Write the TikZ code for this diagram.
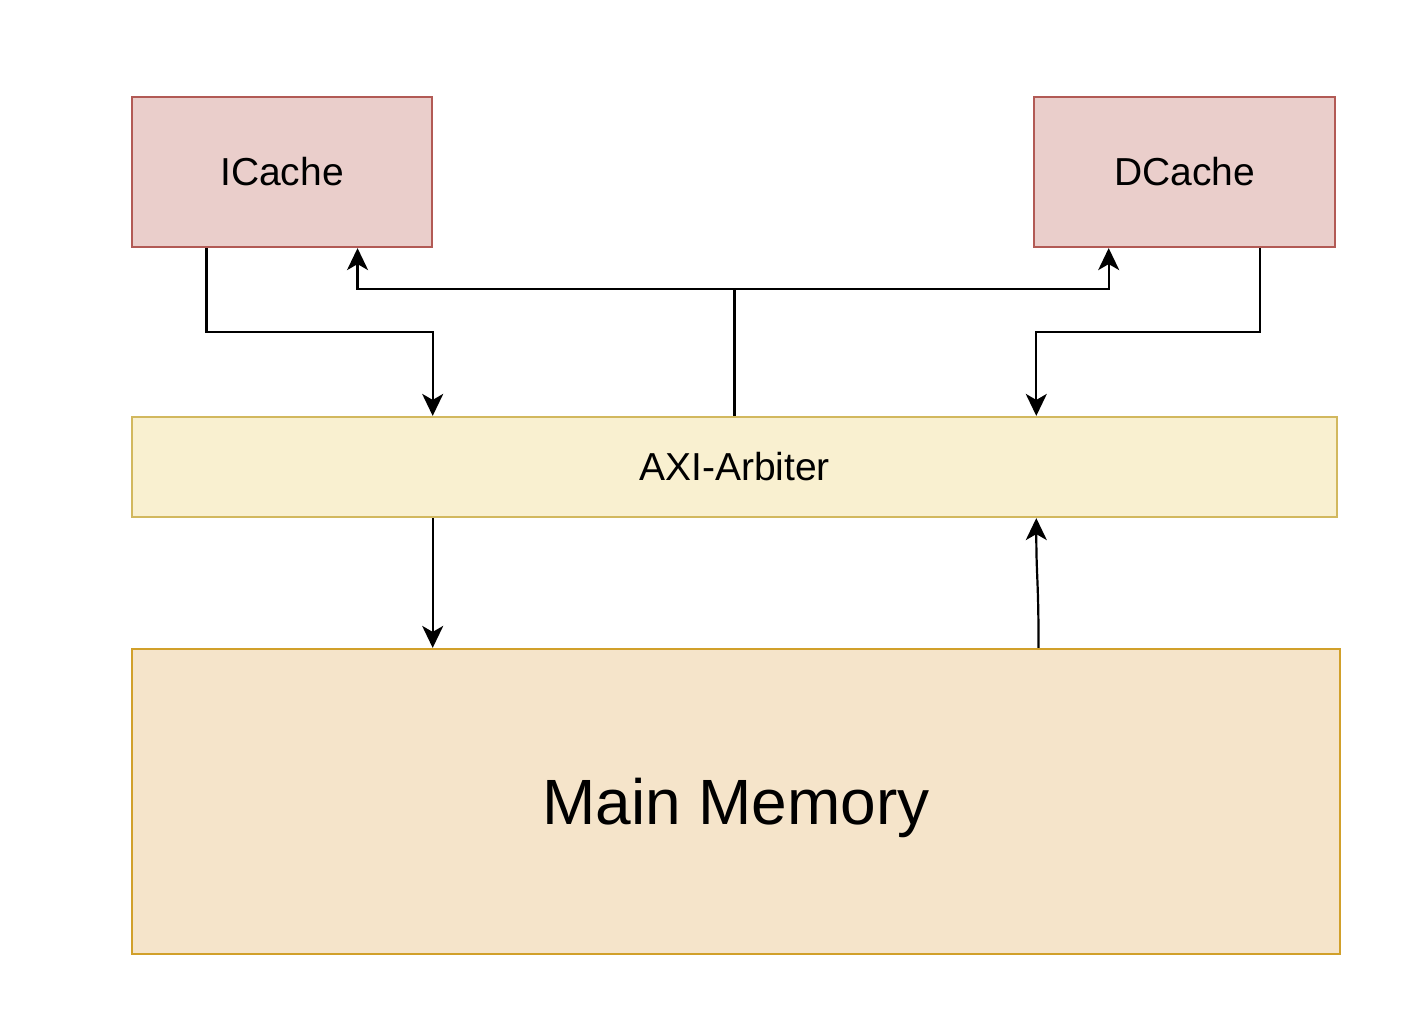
\documentclass[tikz,border=0pt]{standalone}
\usepackage{fontspec}
\setmainfont{Liberation Sans}
\usetikzlibrary{arrows.meta,calc}
\definecolor{cachefill}{HTML}{EACECB}
\definecolor{cachedraw}{HTML}{B25A55}
\definecolor{arbfill}{HTML}{F9F0D0}
\definecolor{arbdraw}{HTML}{D2B85E}
\definecolor{memfill}{HTML}{F5E4CA}
\definecolor{memdraw}{HTML}{D1A02A}
\begin{document}
\begin{tikzpicture}[x=1pt,y=-1pt,
  box/.style={draw, line width=2.2pt, inner sep=0pt, align=center, font=\fontsize{39}{45}\selectfont},
  conn/.style={line width=2.2pt, -{Stealth[length=22pt,width=21pt,inset=6pt]}}]
\useasboundingbox[fill=white] (0,0) rectangle (1428,1029);
\node[box, fill=cachefill, draw=cachedraw, minimum width=300pt, minimum height=150pt] (icache) at (282,172) {ICache};
\node[box, fill=cachefill, draw=cachedraw, minimum width=301pt, minimum height=150pt] (dcache) at (1184.5,172) {DCache};
\node[box, fill=arbfill, draw=arbdraw, minimum width=1205pt, minimum height=100pt] (arb) at (734.5,467) {AXI-Arbiter};
\node[box, fill=memfill, draw=memdraw, minimum width=1208pt, minimum height=305pt, font=\fontsize{64}{72}\selectfont] (mem) at (736,801.5) {\raisebox{-6pt}[\height][\depth]{Main Memory}};
% anchor points
\coordinate (icOut) at ($(icache.south west)!0.25!(icache.south east)$);
\coordinate (icIn) at ($(icache.south west)!0.75!(icache.south east)$);
\coordinate (dcOut) at ($(dcache.south west)!0.75!(dcache.south east)$);
\coordinate (dcIn) at ($(dcache.south west)!0.25!(dcache.south east)$);
\coordinate (arbInL) at ($(arb.north west)!0.25!(arb.north east)$);
\coordinate (arbInR) at ($(arb.north west)!0.75!(arb.north east)$);
\coordinate (arbOutL) at ($(arb.south west)!0.25!(arb.south east)$);
\coordinate (arbInB) at ($(arb.south west)!0.75!(arb.south east)$);
\coordinate (memOut) at ($(mem.north west)!0.75!(mem.north east)$);
\coordinate (memIn) at (arbOutL |- mem.north);
% connectors
\draw[conn] (icOut) -- ++(0,84) -| (arbInL);
\draw[conn] (dcOut) -- ++(0,84) -| (arbInR);
\draw[conn] (arb.north) -- ++(0,-127) -| (icIn);
\draw[conn] (arb.north) -- ++(0,-127) -| (dcIn);
\draw[conn] (arbOutL) -- (memIn);
\draw[conn] (memOut) .. controls ($(memOut)+(0,-70)$) and ($(arbInB)+(0,60)$) .. (arbInB);
\end{tikzpicture}
\end{document}
